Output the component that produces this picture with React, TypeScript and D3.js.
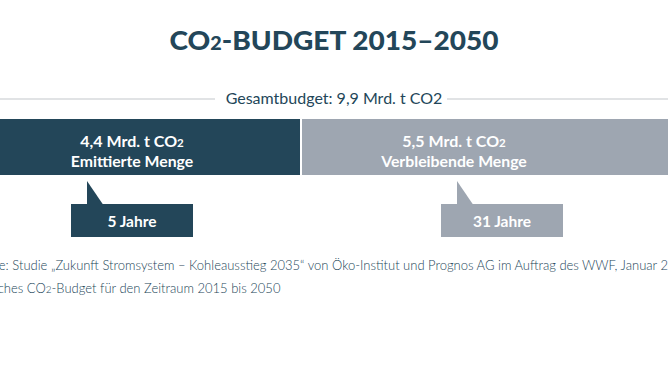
import React from "react";
import * as d3 from "d3";

const W = 668;
const H = 375;

const totalLabel = "Gesamtbudget: 9,9 Mrd. t CO2";
const totalValue = 9.9;
const values = [4.4, 5.5];
const amountLabels = ["4,4 Mrd. t CO", "5,5 Mrd. t CO"];
const names = ["Emittierte Menge", "Verbleibende Menge"];
const years = ["5 Jahre", "31 Jahre"];
const colors = ["#234659", "#9ea6b1"];
const footer1 =
  "Quelle: Studie „Zukunft Stromsystem – Kohleausstieg 2035“ von Öko-Institut und Prognos AG im Auftrag des WWF, Januar 2018";
const footer2Pre = "Deutsches CO";
const footer2Post = "-Budget für den Zeitraum 2015 bis 2050";

const DARK = "#234659";
const FONT = "Lato, 'Open Sans', sans-serif";

export default function App() {
  const x = d3.scaleLinear().domain([0, totalValue]).range([-37, 723.5]);
  const starts = d3.cumsum([0, ...values]);
  const barTop = 119;
  const barH = 56;
  const labelCx = [132, 454];
  const calloutCx = [132, 502];
  const boxW = 122;
  const boxH = 33;
  const boxTop = 204;
  const apexY = 181;

  return (
    <svg width={W} height={H} style={{ position: "absolute", left: 0, top: 0, display: "block", background: "#fff" }}>
      <text x={W / 2} y={50} textAnchor="middle" fontFamily={FONT} fontWeight={900} fontSize={27} fill={DARK} textLength={329} lengthAdjust="spacingAndGlyphs">
        CO<tspan fontSize={19}>2</tspan>-BUDGET 2015–2050
      </text>

      <line x1={0} x2={215} y1={99} y2={99} stroke="#c3c7cc" strokeWidth={1.2} />
      <line x1={447} x2={W} y1={99} y2={99} stroke="#c3c7cc" strokeWidth={1.2} />
      <text x={W / 2} y={103.5} textAnchor="middle" fontFamily={FONT} fontSize={16} fill={DARK}>
        {totalLabel}
      </text>

      {values.map((v, i) => {
        const x0 = x(starts[i]) + (i > 0 ? 1 : 0);
        const x1 = x(starts[i] + v) - (i === 0 ? 1 : 0);
        const bl = calloutCx[i] - boxW / 2;
        const path = d3.path();
        path.moveTo(bl + 16, apexY);
        path.lineTo(bl + 32, boxTop + 0.5);
        path.lineTo(bl + 16, boxTop + 0.5);
        path.closePath();
        return (
          <g key={i}>
            <rect x={x0} y={barTop} width={x1 - x0} height={barH} fill={colors[i]} />
            <text x={labelCx[i]} y={146.5} textAnchor="middle" fontFamily={FONT} fontWeight={700} fontSize={16} fill="#fff">
              {amountLabels[i]}
              <tspan fontSize={11.5}>2</tspan>
            </text>
            <text x={labelCx[i]} y={166.5} textAnchor="middle" fontFamily={FONT} fontWeight={700} fontSize={15.8} fill="#fff">
              {names[i]}
            </text>
            <path d={path.toString()} fill={colors[i]} />
            <rect x={bl} y={boxTop} width={boxW} height={boxH} fill={colors[i]} />
            <text x={calloutCx[i]} y={227} textAnchor="middle" fontFamily={FONT} fontWeight={700} fontSize={15.5} fill="#fff">
              {years[i]}
            </text>
          </g>
        );
      })}

      <text x={-31} y={270} fontFamily={FONT} fontWeight={300} fontSize={13} fill={DARK}>
        {footer1}
      </text>
      <text x={-36} y={293} fontFamily={FONT} fontWeight={300} fontSize={13} fill={DARK}>
        {footer2Pre}
        <tspan fontSize={10}>2</tspan>
        {footer2Post}
      </text>
    </svg>
  );
}
